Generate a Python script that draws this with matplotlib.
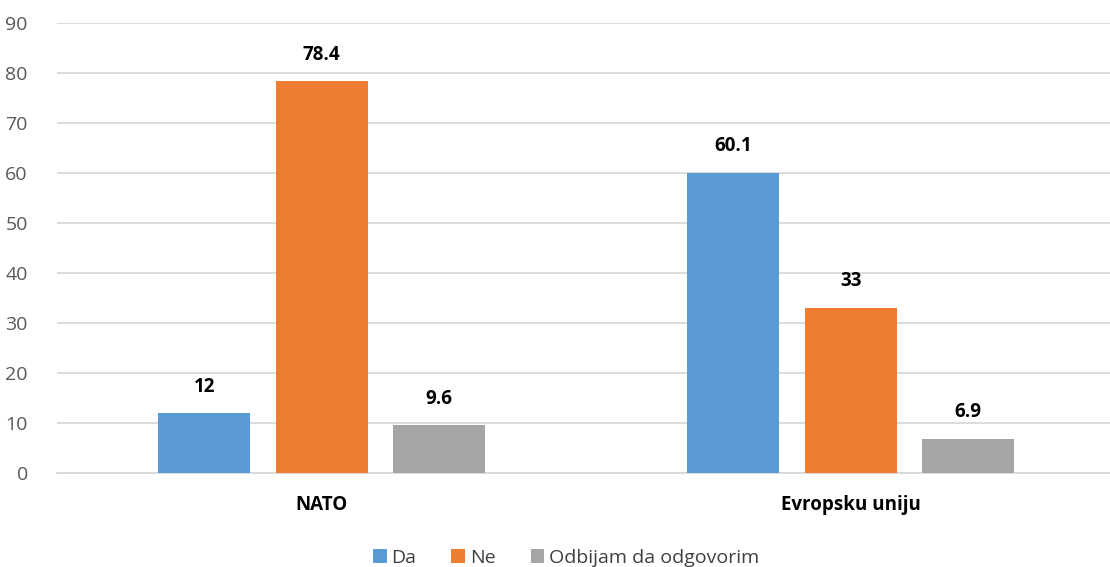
import matplotlib
matplotlib.use("Agg")
import matplotlib.pyplot as plt
import numpy as np

categories = ["NATO", "Evropsku uniju"]
series_names = ["Da", "Ne", "Odbijam da odgovorim"]
da = [12, 60.1]
ne = [78.4, 33]
odb = [9.6, 6.9]
values = [da, ne, odb]
colors = ["#5B9BD5", "#ED7D31", "#A5A5A5"]
yticks = [0, 10, 20, 30, 40, 50, 60, 70, 80, 90]

plt.rcParams['font.family'] = ['Open Sans', 'DejaVu Sans']

fig = plt.figure(figsize=(11.10, 5.67), dpi=100)
ax = fig.add_axes([57/1110, 1 - 473/567, 1 - 57/1110, 450/567])

x = np.arange(len(categories))
width = 0.174
step = 0.222
for i, (name, vals, c) in enumerate(zip(series_names, values, colors)):
    pos = x + (i - 1) * step
    bars = ax.bar(pos, vals, width, color=c, label=name, zorder=3)
    for b, v in zip(bars, vals):
        ax.text(b.get_x() + b.get_width() / 2, v + 3.3, f"{v:g}", ha="center", va="bottom",
                fontsize=13.5, fontweight="bold", color="#000000")

ax.set_xlim(-0.5, 1.49)
ax.set_ylim(0, 90)
ax.set_yticks(yticks)
ax.yaxis.grid(True, color="#D9D9D9", linewidth=1.3, zorder=0)
ax.set_axisbelow(True)
for s in ["top", "right", "left"]:
    ax.spines[s].set_visible(False)
ax.spines["bottom"].set_color("#D9D9D9")
ax.spines["bottom"].set_linewidth(1.3)
ax.tick_params(axis="y", length=0, labelsize=14, labelcolor="#595959", pad=21)
ax.tick_params(axis="x", length=0, pad=16)
ax.set_xticks(x)
ax.set_xticklabels(categories, fontsize=13.5, fontweight="bold")

leg = fig.legend(loc="lower center", bbox_to_anchor=(0.51, -0.03), ncol=3, frameon=False,
                 fontsize=14, handlelength=0.7, handleheight=0.7, handletextpad=0.25,
                 columnspacing=1.8, labelcolor="#404040")

fig.savefig("out.png", dpi=100)
